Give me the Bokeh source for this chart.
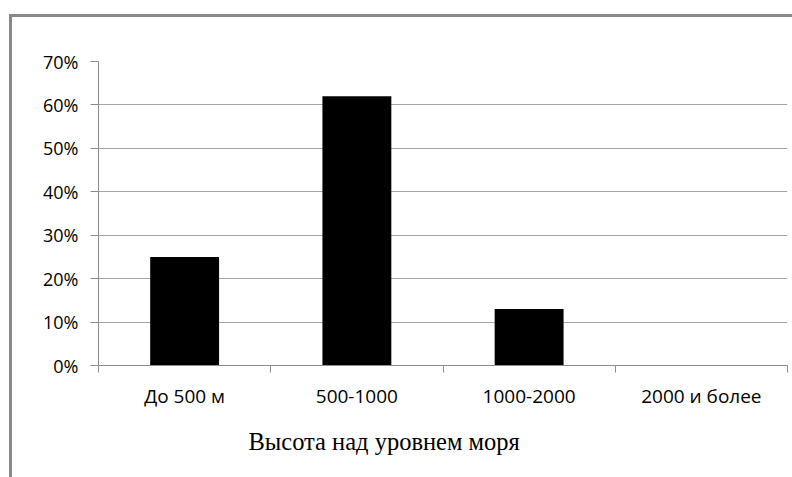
from bokeh.plotting import figure
from bokeh.models import FixedTicker, NumeralTickFormatter, Range1d, Title, InlineStyleSheet
from bokeh.embed import file_html
from bokeh.resources import INLINE

categories = ["До 500 м", "500-1000", "1000-2000", "2000 и более"]
shares = [0.25, 0.62, 0.13, 0.0]
y_ticks = [0.0, 0.1, 0.2, 0.3, 0.4, 0.5, 0.6, 0.7]
x_title = "Высота над уровнем моря"

xs = [i + 0.5 for i in range(len(categories))]
bounds = list(range(len(categories) + 1))

GRID = "#a6a6a6"
AXIS = "#8c8c8c"
BORDER = "#898989"

p = figure(width=792, height=477,
           x_range=Range1d(0, len(categories)), y_range=Range1d(0, 0.7),
           output_backend="svg", toolbar_location=None,
           min_border_left=98, min_border_right=5,
           min_border_top=61, min_border_bottom=112)
p.outline_line_color = None
p.background_fill_color = "white"
p.border_fill_color = None
# chart-area border along the top and left edges (drawn behind the transparent canvas border)
p.stylesheets = [InlineStyleSheet(css=(
    ":host { background-color: #ffffff; "
    f"box-shadow: inset 9px 14px 0 0 #ffffff, inset 12px 17px 0 0 {BORDER}; }}"))]

p.vbar(x=xs, top=shares, width=0.4, fill_color="black", line_color=None)

p.xgrid.visible = False
p.ygrid.ticker = FixedTicker(ticks=y_ticks)
p.ygrid.grid_line_color = GRID
p.ygrid.grid_line_width = 1

xa = p.xaxis[0]
xa.ticker = FixedTicker(ticks=xs, minor_ticks=bounds)
xa.major_label_overrides = {x: c for x, c in zip(xs, categories)}
xa.major_tick_line_color = None
xa.major_tick_out = 0
xa.major_tick_in = 0
xa.minor_tick_out = 7
xa.minor_tick_in = 0
xa.minor_tick_line_color = AXIS
xa.axis_line_color = AXIS
xa.major_label_standoff = 10
xa.major_label_text_font = "Open Sans"
xa.major_label_text_font_size = "19px"
xa.major_label_text_color = "black"

ya = p.yaxis[0]
ya.ticker = FixedTicker(ticks=y_ticks)
ya.formatter = NumeralTickFormatter(format="0%")
ya.major_tick_out = 8
ya.major_tick_in = 0
ya.minor_tick_line_color = None
ya.major_tick_line_color = AXIS
ya.axis_line_color = AXIS
ya.major_label_standoff = 12
ya.major_label_text_font = "Open Sans"
ya.major_label_text_font_size = "18px"
ya.major_label_text_color = "black"

p.add_layout(Title(text=x_title, align="left", offset=150,
                   text_font="Liberation Serif", text_font_size="24.5px",
                   text_font_style="normal", text_color="black",
                   standoff=28), "below")

open("out.html", "w").write(file_html(p, INLINE))
